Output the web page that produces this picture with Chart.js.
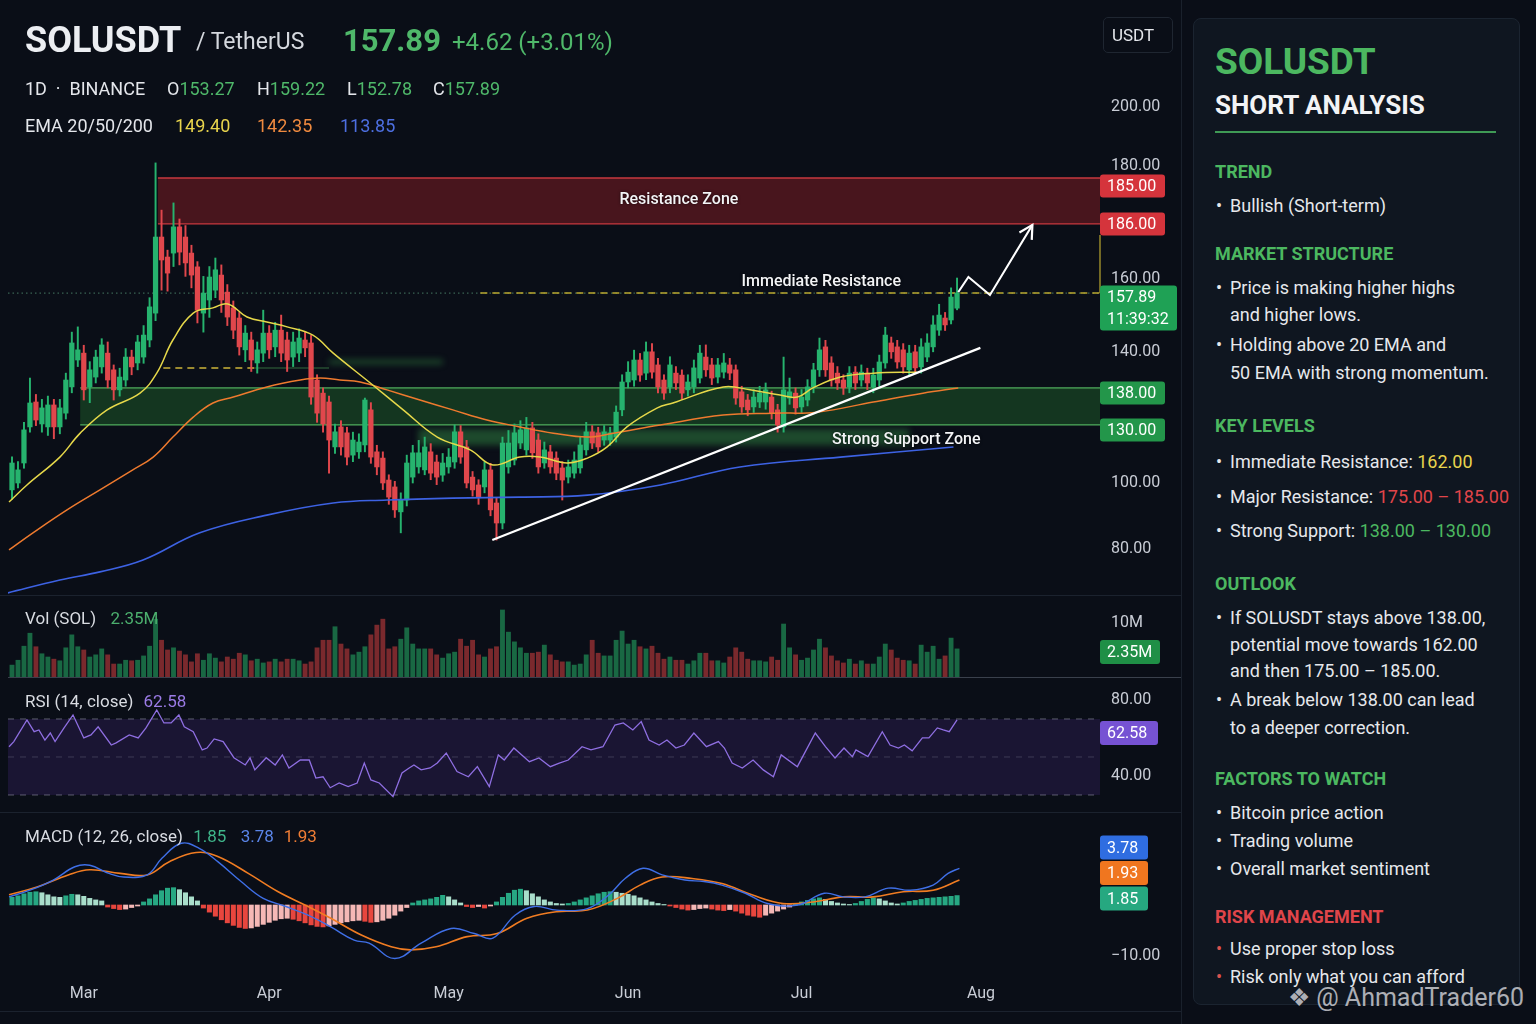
<!DOCTYPE html>
<html>
<head>
<meta charset="utf-8">
<title>SOLUSDT daily</title>
<script src="https://cdn.jsdelivr.net/npm/chart.js@4.4.1/dist/chart.umd.min.js"></script>
<style>
  html, body { margin: 0; padding: 0; background: #0a0e17; }
  body { width: 1536px; height: 1024px; position: relative; overflow: hidden;
         font-family: Roboto, "Noto Sans", sans-serif; color: #e4e6eb; }
  canvas { position: absolute; left: 0; }
  #price { top: 0; } #vol { top: 597px; } #rsi { top: 680px; } #macd { top: 815px; }
  .t { position: absolute; white-space: nowrap; z-index: 5; }
  .sep { position: absolute; left: 0; width: 1181px; height: 1px; background: #1b222e; }
  .up { color: #4fb86a; } .yl { color: #e8d44d; } .or { color: #ef8a3f; } .bl { color: #4d6fe0; }
  .lbl { font-size: 17px; line-height: 24px; color: #d9dce2; }
  .row { font-size: 18px; line-height: 24px; }
  #usdt { position: absolute; left: 1103px; top: 17px; width: 70px; height: 36px; box-sizing: border-box;
          border: 1px solid #1f2631; border-radius: 5px; font-size: 17px; line-height: 34px; text-indent: 8px; color: #e4e6eb; }
  #panel { position: absolute; left: 1193px; top: 18px; width: 327px; height: 987px; box-sizing: border-box;
           background: #0f1620; border: 1px solid #1b2430; border-radius: 8px; }
  #rule { position: absolute; left: 1215px; top: 131px; width: 281px; height: 2px; background: #3f9a55; }
  .p { position: absolute; left: 1215px; white-space: nowrap; }
  .h1 { font-weight: 700; font-size: 37px; line-height: 48px; color: #4cb860; }
  .h2 { font-weight: 700; font-size: 26px; line-height: 34px; color: #f2f3f5; }
  .sec { font-weight: 700; font-size: 18px; line-height: 24px; color: #4cb860; }
  .sec.red { color: #e0454a; }
  .li { font-size: 18px; line-height: 24px; color: #e6e8ec; padding-left: 15px; }
  .li b { position: absolute; left: 1px; font-weight: 400; }
  .li b.r { color: #d9534f; }
  #wm { position: absolute; left: 1288px; top: 983px; font-size: 25px; line-height: 30px; color: rgba(235,235,240,0.72); white-space: nowrap; }
</style>
</head>
<body>

<canvas id="price" width="1190" height="595"></canvas>
<canvas id="vol" width="1190" height="80"></canvas>
<canvas id="rsi" width="1190" height="130"></canvas>
<canvas id="macd" width="1190" height="200"></canvas>

<div class="sep" style="top:595px"></div>
<div class="sep" style="top:677px; left:8px; width:1173px; background:#3a404c"></div>
<div class="sep" style="top:812px"></div>
<div class="sep" style="top:1011px"></div>
<div style="position:absolute; left:1181px; top:0; width:1px; height:1024px; background:#1a212c"></div>

<!-- header -->
<div class="t" style="left:25px; top:18px; font-weight:700; font-size:36px; line-height:44px; color:#eceef2">SOLUSDT</div>
<div class="t" style="left:196px; top:20px; font-size:23px; line-height:44px; color:#d5d8de">/ TetherUS</div>
<div class="t up" style="left:343px; top:19px; font-weight:700; font-size:31px; line-height:44px">157.89</div>
<div class="t up" style="left:452px; top:20px; font-size:24px; line-height:44px">+4.62 (+3.01%)</div>

<div class="t row" style="left:25px; top:77px">1D &nbsp;·&nbsp; BINANCE</div>
<div class="t row" style="left:167px; top:77px">O<span class="up">153.27</span></div>
<div class="t row" style="left:257px; top:77px">H<span class="up">159.22</span></div>
<div class="t row" style="left:347px; top:77px">L<span class="up">152.78</span></div>
<div class="t row" style="left:433px; top:77px">C<span class="up">157.89</span></div>

<div class="t row" style="left:25px; top:114px">EMA 20/50/200</div>
<div class="t row yl" style="left:175px; top:114px">149.40</div>
<div class="t row or" style="left:257px; top:114px">142.35</div>
<div class="t row bl" style="left:340px; top:114px">113.85</div>

<div id="usdt">USDT</div>

<!-- sub panel captions -->
<div class="t lbl" style="left:25px; top:606px">Vol (SOL) <span style="margin-left:10px; color:#4caf6e">2.35M</span></div>
<div class="t lbl" style="left:25px; top:689px">RSI (14, close) <span style="margin-left:6px; color:#9b7be6">62.58</span></div>
<div class="t lbl" style="left:25px; top:824px">MACD (12, 26, close) <span style="margin-left:6px; color:#3fb58a">1.85</span>
  <span style="margin-left:10px; color:#5a85e8">3.78</span><span style="margin-left:10px; color:#ef7d35">1.93</span></div>

<!-- analysis panel -->
<div id="panel"></div>
<div class="p h1" style="top:38px">SOLUSDT</div>
<div class="p h2" style="top:88px">SHORT ANALYSIS</div>
<div id="rule"></div>

<div class="p sec" style="top:160px">TREND</div>
<div class="p li" style="top:194px"><b>•</b>Bullish (Short-term)</div>

<div class="p sec" style="top:242px">MARKET STRUCTURE</div>
<div class="p li" style="top:276px"><b>•</b>Price is making higher highs</div>
<div class="p li" style="top:303px">and higher lows.</div>
<div class="p li" style="top:333px"><b>•</b>Holding above 20 EMA and</div>
<div class="p li" style="top:361px">50 EMA with strong momentum.</div>

<div class="p sec" style="top:414px">KEY LEVELS</div>
<div class="p li" style="top:450px"><b>•</b>Immediate Resistance: <span style="color:#e8d44d">162.00</span></div>
<div class="p li" style="top:485px"><b>•</b>Major Resistance: <span style="color:#e0454a">175.00 – 185.00</span></div>
<div class="p li" style="top:519px"><b>•</b>Strong Support: <span style="color:#4cb860">138.00 – 130.00</span></div>

<div class="p sec" style="top:572px">OUTLOOK</div>
<div class="p li" style="top:606px"><b>•</b>If SOLUSDT stays above 138.00,</div>
<div class="p li" style="top:633px">potential move towards 162.00</div>
<div class="p li" style="top:659px">and then 175.00 – 185.00.</div>
<div class="p li" style="top:688px"><b>•</b>A break below 138.00 can lead</div>
<div class="p li" style="top:716px">to a deeper correction.</div>

<div class="p sec" style="top:767px">FACTORS TO WATCH</div>
<div class="p li" style="top:801px"><b>•</b>Bitcoin price action</div>
<div class="p li" style="top:829px"><b>•</b>Trading volume</div>
<div class="p li" style="top:857px"><b>•</b>Overall market sentiment</div>

<div class="p sec red" style="top:905px">RISK MANAGEMENT</div>
<div class="p li" style="top:937px"><b class="r">•</b>Use proper stop loss</div>
<div class="p li" style="top:965px"><b class="r">•</b>Risk only what you can afford</div>

<div id="wm">❖ @ AhmadTrader60</div>

<script>
// ---- candles, one per day from Feb 17 (index 0) to Jul 25 (index 158)
const opens = [
  97.9, 100.0, 106.1, 117.1, 124.7, 118.0, 117.1, 123.8, 117.1, 121.3,
  129.3, 137.5, 139.6, 129.3, 132.3, 135.4, 139.6, 134.5, 128.4, 131.4,
  138.4, 136.6, 138.4, 143.6, 151.8, 175.0, 168.9, 170.1, 178.1, 175.0,
  170.1, 165.9, 151.8, 155.8, 158.8, 163.4, 158.2, 153.4, 150.3, 140.6,
  143.6, 136.6, 139.6, 145.7, 141.5, 146.6, 143.6, 138.4, 139.6, 143.6,
  142.7, 131.4, 127.4, 124.7, 111.0, 117.1, 115.3, 108.5, 109.5, 111.6,
  122.3, 109.5, 107.6, 100.9, 98.8, 91.2, 94.8, 101.8, 104.9, 104.0,
  109.5, 106.4, 102.4, 104.9, 106.4, 115.6, 111.0, 101.8, 99.4, 98.8,
  104.0, 93.9, 87.8, 104.9, 107.0, 112.2, 110.1, 116.8, 113.1, 106.1,
  109.5, 107.6, 104.6, 101.8, 103.0, 104.6, 110.1, 115.6, 115.3, 113.1,
  113.1, 114.0, 122.3, 130.8, 131.4, 137.5, 133.5, 140.0, 136.0, 131.4,
  129.3, 133.5, 132.9, 128.4, 129.3, 132.0, 138.4, 136.0, 132.3, 133.8,
  136.0, 134.5, 127.8, 125.3, 123.2, 124.7, 124.7, 126.2, 122.3, 117.1,
  125.9, 127.4, 123.2, 125.3, 129.3, 134.5, 141.5, 136.6, 133.5, 131.4,
  129.3, 133.8, 131.4, 133.5, 129.3, 131.4, 136.6, 142.7, 141.5, 140.6,
  134.5, 140.0, 135.4, 138.4, 141.5, 146.6, 150.3, 149.7, 153.3
];
const highs = [
  108.0, 106.5, 118.5, 132.0, 127.0, 125.5, 126.5, 125.5, 125.5, 133.5,
  146.0, 147.6, 142.0, 137.0, 140.5, 144.0, 143.0, 136.0, 135.0, 141.0,
  140.5, 145.0, 148.0, 156.5, 197.6, 183.2, 171.0, 185.4, 180.5, 178.5,
  172.5, 167.5, 163.0, 166.0, 168.6, 166.5, 160.5, 155.5, 152.0, 148.0,
  146.0, 143.0, 152.7, 148.0, 149.0, 151.2, 146.0, 146.0, 147.0, 146.0,
  145.0, 133.0, 129.0, 126.5, 118.0, 119.0, 117.0, 115.5, 115.0, 125.9,
  124.5, 111.5, 109.5, 102.5, 100.5, 97.0, 108.5, 111.5, 113.0, 114.0,
  112.0, 108.5, 109.0, 110.5, 117.7, 117.5, 113.0, 103.5, 101.0, 106.5,
  106.0, 95.5, 114.0, 116.0, 118.0, 119.0, 120.0, 118.5, 115.0, 112.5,
  111.5, 109.5, 106.5, 107.0, 109.5, 114.0, 118.5, 117.5, 117.0, 117.5,
  117.0, 123.5, 133.0, 137.0, 140.5, 139.5, 143.0, 142.5, 138.0, 133.0,
  138.5, 135.5, 134.5, 133.0, 137.5, 142.0, 142.1, 138.0, 138.0, 139.5,
  138.0, 136.0, 129.5, 127.0, 128.5, 129.5, 130.5, 128.0, 124.0, 138.4,
  132.0, 129.0, 128.5, 131.5, 136.5, 144.2, 143.5, 138.5, 135.5, 133.0,
  135.5, 135.5, 136.0, 135.0, 135.0, 139.0, 147.5, 144.5, 143.5, 142.5,
  142.0, 142.0, 144.0, 145.5, 151.0, 154.5, 152.0, 159.5, 162.5
];
const lows = [
  95.0, 98.5, 104.5, 115.5, 117.5, 115.5, 114.5, 113.5, 115.0, 119.5,
  127.5, 135.5, 125.3, 124.5, 130.5, 133.5, 129.0, 125.3, 126.5, 129.5,
  133.0, 134.5, 136.5, 141.5, 149.5, 158.8, 158.5, 166.0, 166.5, 163.0,
  159.5, 148.8, 146.0, 150.5, 156.5, 152.0, 148.0, 144.0, 139.0, 137.0,
  134.0, 133.5, 137.0, 138.0, 138.5, 137.0, 134.0, 135.5, 137.0, 138.5,
  124.0, 118.5, 115.5, 103.0, 109.0, 108.5, 105.5, 106.5, 107.5, 109.5,
  106.0, 102.5, 98.0, 93.5, 89.5, 84.8, 93.0, 100.0, 103.0, 102.5,
  101.0, 99.5, 100.5, 103.0, 104.5, 106.0, 98.5, 96.0, 93.5, 97.0,
  90.0, 82.6, 86.0, 103.0, 105.5, 110.5, 108.5, 107.5, 103.0, 104.5,
  103.0, 101.0, 94.8, 100.0, 101.5, 103.0, 108.5, 110.5, 109.5, 111.5,
  111.5, 112.5, 120.5, 129.0, 129.5, 131.0, 131.5, 132.0, 127.5, 125.5,
  127.5, 128.5, 125.5, 126.5, 127.5, 130.5, 132.5, 130.0, 130.5, 132.0,
  131.5, 124.0, 121.5, 120.5, 121.5, 123.0, 122.5, 119.5, 115.5, 115.5,
  124.0, 121.0, 121.5, 123.5, 127.5, 132.5, 132.5, 129.5, 128.5, 127.0,
  127.5, 128.5, 129.5, 128.5, 127.5, 129.5, 135.0, 138.0, 135.0, 133.5,
  133.0, 133.5, 133.5, 137.0, 140.0, 145.0, 146.5, 148.5, 152.8
];
const closes = [
  106.1, 104.0, 116.2, 124.4, 119.2, 122.9, 123.8, 117.1, 122.9, 131.4,
  142.7, 140.6, 128.4, 134.5, 138.4, 142.1, 131.4, 128.4, 132.3, 138.4,
  135.4, 143.0, 145.1, 153.7, 175.0, 168.0, 164.0, 178.1, 170.4, 167.1,
  163.4, 152.7, 157.9, 162.8, 165.0, 155.8, 150.6, 146.6, 141.5, 145.7,
  137.5, 140.6, 145.7, 140.6, 146.6, 139.6, 137.5, 143.0, 144.2, 141.2,
  126.2, 121.3, 118.0, 113.1, 115.6, 111.0, 107.9, 113.1, 112.5, 125.3,
  107.9, 104.9, 100.0, 95.7, 91.8, 94.8, 106.1, 109.2, 109.2, 111.0,
  103.0, 101.8, 106.1, 107.9, 115.6, 107.9, 100.0, 97.9, 95.7, 104.0,
  91.8, 87.8, 112.2, 112.2, 115.3, 116.2, 116.8, 109.2, 104.9, 110.1,
  104.9, 103.0, 100.9, 104.9, 107.0, 111.6, 115.6, 112.2, 111.0, 115.6,
  115.3, 121.6, 130.8, 133.8, 137.5, 132.9, 140.0, 133.8, 129.3, 127.4,
  136.0, 130.5, 127.4, 130.8, 135.1, 139.6, 134.5, 132.0, 136.0, 136.6,
  133.5, 125.9, 123.2, 122.3, 126.2, 127.4, 128.4, 121.3, 117.7, 128.4,
  127.8, 122.9, 126.2, 129.3, 134.5, 140.6, 134.5, 131.4, 130.5, 129.0,
  133.5, 130.5, 133.8, 130.5, 132.9, 136.9, 145.1, 140.0, 136.9, 135.4,
  139.6, 135.1, 141.5, 142.7, 148.2, 151.2, 148.2, 156.7, 157.9
];
// volume in millions SOL
const volumes = [
  2.2, 3.1, 5.7, 8.1, 5.6, 4.3, 3.7, 3.3, 3.0, 5.4,
  7.8, 5.6, 5.0, 3.7, 4.1, 5.2, 4.1, 2.4, 2.4, 3.1,
  3.0, 3.1, 3.9, 5.7, 10.7, 6.8, 5.0, 5.4, 4.8, 4.1,
  2.8, 4.3, 3.1, 4.3, 3.5, 2.8, 3.7, 3.3, 4.4, 4.1,
  3.0, 3.3, 2.6, 2.8, 3.3, 2.8, 3.3, 3.3, 3.0, 2.4,
  2.8, 5.4, 6.8, 6.8, 9.3, 6.1, 5.2, 4.1, 4.6, 5.6,
  7.8, 9.6, 10.7, 5.2, 5.6, 7.0, 9.1, 6.1, 5.2, 5.2,
  5.2, 4.1, 3.5, 4.3, 4.6, 7.0, 5.7, 6.8, 4.1, 3.7,
  5.2, 5.6, 12.4, 8.3, 6.5, 5.4, 4.4, 4.4, 4.6, 5.9,
  4.1, 3.1, 2.8, 2.8, 2.2, 2.4, 4.1, 6.8, 4.4, 3.9,
  3.9, 6.8, 8.5, 6.1, 6.8, 5.6, 5.2, 5.7, 4.4, 3.3,
  3.7, 3.1, 3.1, 2.4, 3.0, 4.4, 4.4, 3.0, 3.0, 2.6,
  3.7, 5.4, 4.6, 3.3, 3.0, 3.0, 2.8, 3.7, 3.1, 9.8,
  5.4, 4.1, 3.1, 3.5, 5.0, 7.0, 5.4, 3.9, 3.0, 2.6,
  3.3, 2.4, 3.0, 2.4, 2.4, 3.7, 6.1, 5.0, 3.5, 3.1,
  3.0, 2.4, 5.9, 4.6, 5.7, 3.3, 3.9, 7.2, 5.2
];
// MACD histogram, one bar per candle
const macdHist = [
  1.5, 1.8, 2.2, 2.5, 2.6, 2.4, 2.0, 1.6, 1.5, 1.8, 2.1, 2.0, 1.7, 1.3, 1.0, 0.8,
  -0.4, -0.7, -0.9, -0.8, -0.5, -0.2,
  0.6, 1.2, 2.0, 2.8, 3.3, 3.4, 3.0, 2.4, 1.6, 0.8,
  -0.6, -1.4, -2.2, -2.9, -3.5, -4.0, -4.4, -4.6, -4.5, -4.2, -3.8, -3.4, -3.0, -2.7, -2.6, -2.8,
  -3.1, -3.5, -3.9, -4.2, -4.3, -4.1, -3.8, -3.5, -3.3, -3.1, -3.0, -3.2, -3.4, -3.3, -3.0, -2.6, -2.0, -1.2, -0.5,
  0.4, 0.8, 1.0, 1.2, 1.5, 1.9, 1.6, 1.0, 0.4,
  -0.3, -0.5, -0.3, -0.6, -0.2,
  0.6, 1.5, 2.3, 2.9, 3.1, 2.8, 2.2, 1.6, 1.0, 0.6, 0.3, 0.2,
  0.3, 0.6, 1.0, 1.4, 1.8, 2.2, 2.5, 2.6, 2.5, 2.3, 2.1, 1.8, 1.4, 1.0, 0.6, 0.3, 0.1, -0.2,
  -0.5, -0.8, -1.0, -0.9, -0.7, -0.6, -0.8, -1.0, -1.1, -0.9, -1.2, -1.6, -2.0, -2.2, -2.4, -2.0, -1.6, -1.2, -0.8, -0.4,
  0.3, 0.6, 0.9, 1.2, 1.4, 1.1, 0.7, 0.4, 0.2, 0.1,
  0.3, 0.7, 1.1, 1.4, 1.2, 0.8,
  0.4, 0.2, 0.4, 0.7,
  0.9, 1.1, 1.3, 1.4, 1.5, 1.6, 1.7, 1.85
];

// indicator lines as [day index, value]
const ema20Pts = [[-0.5,94.2],[2.5,99.4],[8.0,107.9],[11.4,115.2],[15.9,122.3],[21.4,127.4],[24.2,133.5],
  [26.9,143.6],[30.3,151.8],[33.6,153.4],[36.1,154.6],[39.3,150.6],[42.6,149.1],[46.0,147.6],[50.3,145.1],
  [53.7,139.6],[59.9,130.5],[65.4,122.3],[71.1,114.0],[76.6,110.1],[80.4,105.5],[84.9,107.9],[88.3,107.9],
  [92.8,106.1],[96.2,107.6],[99.5,111.0],[102.8,117.1],[107.9,122.9],[110.5,124.4],[118.9,129.3],[123.4,128.4],
  [128.4,126.8],[131.3,126.2],[133.9,129.0],[138.5,132.3],[144.0,133.5],[151.3,133.8]];
const ema50Pts = [[-0.5,79.6],[3.5,84.8],[9.2,91.8],[14.7,97.9],[20.2,104.0],[23.6,107.9],[26.9,114.0],
  [30.3,120.1],[33.6,124.4],[37.0,126.2],[42.6,129.3],[48.2,131.4],[51.5,132.0],[54.8,131.4],[58.2,130.8],
  [62.7,128.4],[68.2,125.3],[73.7,122.3],[79.4,119.2],[84.9,117.1],[90.5,115.2],[96.2,114.0],[100.5,115.2],
  [108.4,117.7],[118.9,120.7],[127.3,121.3],[134.6,121.6],[144.0,124.7],[152.3,127.4],[158.2,129.0]];
const ema200Pts = [[-0.7,66.5],[8.0,70.4],[14.7,72.9],[21.9,76.5],[31.4,84.8],[42.6,90.2],[53.7,93.9],
  [62.7,94.8],[73.7,95.4],[84.9,95.7],[96.2,96.3],[108.4,99.4],[121.7,104.9],[138.5,107.9],[157.4,111.0]];
const rsiPts = [[-0.5,55.4],[0.3,58.1],[2.5,69.5],[3.7,63.3],[4.5,64.2],[5.5,58.9],[6.4,62.6],[7.2,58.1],
  [8.7,65.3],[10.2,72.1],[12.0,60.0],[13.2,61.6],[14.4,65.9],[16.6,56.3],[17.4,57.4],[19.6,61.6],[21.1,60.0],
  [22.4,65.3],[24.2,74.7],[25.4,67.9],[26.6,67.9],[27.9,72.1],[28.8,65.9],[30.3,63.3],[31.8,53.7],[32.6,54.7],
  [33.8,59.5],[35.3,58.1],[37.1,49.6],[39.0,45.8],[39.8,49.5],[40.6,43.2],[42.5,49.6],[44.0,45.8],[45.2,51.1],
  [46.3,44.2],[48.2,48.4],[49.7,48.4],[50.8,38.9],[52.0,39.6],[53.2,33.8],[54.7,36.3],[56.2,34.4],[57.7,36.3],
  [58.9,46.8],[60.0,37.9],[61.4,36.3],[63.7,29.1],[65.2,41.6],[66.4,44.2],[67.2,45.8],[68.4,43.2],[69.9,44.2],
  [71.1,46.8],[72.6,52.1],[74.4,42.3],[76.3,39.6],[77.8,44.9],[79.8,34.4],[81.3,51.1],[82.3,48.4],[83.9,54.7],
  [86.5,47.5],[88.1,49.5],[90.0,44.9],[91.5,46.8],[93.0,48.4],[95.3,55.4],[96.8,53.7],[98.8,55.4],[100.8,66.8],
  [102.2,67.9],[103.8,64.2],[105.2,68.6],[106.5,58.9],[108.2,56.3],[109.5,58.9],[111.0,54.7],[112.4,56.3],
  [114.0,62.6],[116.1,55.4],[118.1,58.1],[119.1,54.7],[120.4,46.8],[122.1,44.2],[123.9,48.4],[125.6,43.2],
  [127.3,39.6],[128.6,51.1],[131.3,44.9],[134.3,62.6],[136.0,55.4],[137.6,49.5],[139.1,54.7],[140.5,50.2],
  [141.1,53.7],[143.1,50.2],[145.5,63.3],[146.8,56.3],[148.2,54.7],[149.2,56.3],[150.5,53.2],[152.2,60.0],
  [153.3,60.0],[154.7,65.3],[155.7,64.2],[156.7,63.3],[158.0,69.5]];
const macdPts = [[-0.5,1.6],[3.0,2.9],[6.9,4.9],[10.5,7.5],[13.0,7.8],[16.2,6.2],[18.7,5.5],[22.6,5.9],
  [25.1,9.2],[28.3,12.1],[31.3,11.1],[34.4,8.5],[38.3,4.6],[42.0,1.3],[45.8,-0.3],[49.5,-2.0],[53.3,-4.3],
  [57.2,-6.9],[59.7,-7.5],[64.0,-10.5],[68.4,-7.5],[73.4,-4.6],[77.3,-5.6],[80.4,-6.5],[84.1,-2.0],[87.3,-0.3],
  [91.1,-1.0],[96.2,-0.7],[99.8,2.0],[102.5,5.2],[105.5,7.2],[108.7,5.9],[112.5,4.9],[115.7,4.6],[118.7,3.9],
  [122.6,2.3],[126.3,0.3],[131.4,0.0],[135.8,2.3],[139.0,1.6],[142.6,1.6],[146.5,3.3],[150.2,2.9],[154.0,3.9],
  [156.5,6.2],[158.4,7.2]];
const signalPts = [[-0.5,2.0],[4.3,3.6],[9.4,5.9],[13.0,6.9],[18.1,6.2],[22.6,5.9],[26.3,8.5],[30.8,10.3],
  [34.4,9.5],[39.5,6.2],[44.5,2.6],[49.5,-0.3],[53.3,-2.6],[58.4,-5.9],[63.4,-8.2],[66.6,-8.8],[70.9,-8.2],
  [76.1,-6.2],[81.1,-5.6],[86.1,-2.6],[91.1,-1.3],[96.2,-1.0],[101.2,1.3],[105.0,3.9],[108.7,5.5],[113.7,5.2],
  [118.7,4.2],[123.7,2.0],[128.9,0.3],[133.9,0.6],[139.0,1.6],[144.0,1.6],[149.0,2.6],[154.0,2.9],[158.4,4.9]];

// drawn levels and studies
const trendLine = [[80.3, 82.6], [161.9, 141.2]];
const projectionPath = [[158.2, 158.2], [159.9, 162.8], [163.5, 157.3], [170.6, 178.7]];
const resistFrom = 24.4, resistTop = 193.0, resistBottom = 179.0;
const supportFrom = 11.4, supportTop = 129.0, supportBottom = 117.7;
const immFrom = 78.3, immLevel = 157.9;
const oldLevel = 135.1, oldFrom = 25.3, oldTo = 40.6;
const glowBands = [[53, 72, 137.6, 136.2], [68, 150, 116.5, 111.5]];
const zoneTexts = [['Resistance Zone', 111.5, 186.3], ['Immediate Resistance', 135.3, 161.3], ['Strong Support Zone', 149.5, 113.1]];

// axes
const xMin = -0.67, xMax = 181.9;
const monthTickIdx = [12, 43, 73, 103, 132, 162];
const monthLabels = ['Mar', 'Apr', 'May', 'Jun', 'Jul', 'Aug'];
const priceMin = 65.85, priceMax = 247.27;
const priceTicks = [214.6, 196.7, 162.2, 140.0, 100.0, 79.9];
const priceTickLabels = ['200.00', '180.00', '160.00', '140.00', '100.00', '80.00'];
const volMax = 14.8, volTicks = [10], volTickLabels = ['10M'];
const rsiMin = 22.1, rsiMax = 90.5, rsiTicks = [80, 40], rsiTickLabels = ['80.00', '40.00'];
const rsiBands = [70, 50, 30];
const macdMin = -13.73, macdMax = 17.65, macdTicks = [-10], macdTickLabels = ['−10.00'];
const lastRsi = 62.58;
const macdTagValues = [3.78, 1.93, 1.85];

// ---- helpers
Chart.defaults.font.family = 'Roboto, "Noto Sans", sans-serif';
Chart.defaults.color = '#c9cdd6';

const UP = '#26b36e', DOWN = '#e0474c';
const isUp = closes.map((c, i) => c >= opens[i]);
const toXY = pts => pts.map(p => ({ x: p[0], y: p[1] }));

function rightAxis(min, max, vals, labels) {
  return {
    position: 'right', min: min, max: max,
    grid: { display: false, drawTicks: false }, border: { display: false },
    afterBuildTicks: s => { s.ticks = vals.map(v => ({ value: v })); },
    afterFit: s => { s.width = 90; s.paddingTop = 0; s.paddingBottom = 0; },
    ticks: { padding: 11, autoSkip: false, color: '#c9cdd6', font: { size: 16 },
             callback: (v, i) => labels[i] }
  };
}
// offset:false keeps bar charts from widening the linear day axis
const hiddenX = () => ({ type: 'linear', min: xMin, max: xMax, offset: false, display: false });
const baseOptions = (scales) => ({
  responsive: false, animation: false,
  layout: { padding: { left: 8, right: 0, top: 0, bottom: 0 } },
  plugins: { legend: { display: false }, tooltip: { enabled: false } },
  scales: scales
});

function hline(ctx, x1, x2, y) {
  ctx.beginPath(); ctx.moveTo(x1, y); ctx.lineTo(x2, y); ctx.stroke();
}
function drawTag(ctx, left, cy, w, h, bg, lines) {
  ctx.fillStyle = bg;
  ctx.beginPath(); ctx.roundRect(left, cy - h / 2, w, h, 3); ctx.fill();
  ctx.fillStyle = '#ffffff';
  ctx.font = '16px Roboto'; ctx.textAlign = 'left'; ctx.textBaseline = 'middle';
  lines.forEach((s, k) => ctx.fillText(s, left + 7, cy + (k - (lines.length - 1) / 2) * 22 + 1));
}

// ---- price panel
const priceOverlay = {
  id: 'priceOverlay',
  beforeDatasetsDraw(chart) {
    const { ctx, chartArea: a, scales: { x, y } } = chart;
    ctx.save();
    ctx.beginPath(); ctx.rect(a.left, a.top, a.right - a.left, a.bottom - a.top); ctx.clip();

    // resistance zone
    const rx = x.getPixelForValue(resistFrom);
    const r1 = y.getPixelForValue(resistTop), r2 = y.getPixelForValue(resistBottom);
    ctx.fillStyle = 'rgba(112,26,34,0.62)';
    ctx.fillRect(rx, r1, a.right - rx, r2 - r1);
    ctx.strokeStyle = '#c9393f'; ctx.lineWidth = 1.3;
    hline(ctx, rx, a.right, r1); hline(ctx, rx, a.right, r2);

    // support zone
    const sx = x.getPixelForValue(supportFrom);
    const s1 = y.getPixelForValue(supportTop), s2 = y.getPixelForValue(supportBottom);
    ctx.fillStyle = 'rgba(38,120,48,0.38)';
    ctx.fillRect(sx, s1, a.right - sx, s2 - s1);
    ctx.strokeStyle = 'rgba(92,196,104,0.85)'; ctx.lineWidth = 1.2;
    hline(ctx, sx, a.right, s1); hline(ctx, sx, a.right, s2);

    // soft green streaks
    ctx.filter = 'blur(3px)';
    ctx.fillStyle = 'rgba(60,170,80,0.38)';
    glowBands.forEach(g => {
      const gx1 = x.getPixelForValue(g[0]), gx2 = x.getPixelForValue(g[1]);
      const gy1 = y.getPixelForValue(g[2]), gy2 = y.getPixelForValue(g[3]);
      ctx.fillRect(gx1, gy1, gx2 - gx1, gy2 - gy1);
    });
    ctx.filter = 'none';

    // last price dotted line
    const ly = y.getPixelForValue(closes[closes.length - 1]);
    ctx.setLineDash([1.5, 3]); ctx.strokeStyle = 'rgba(110,190,150,0.6)'; ctx.lineWidth = 1;
    hline(ctx, a.left, a.right, ly);

    // immediate resistance
    ctx.setLineDash([7, 5]); ctx.strokeStyle = '#bba82f'; ctx.lineWidth = 1.5;
    hline(ctx, x.getPixelForValue(immFrom), a.right, y.getPixelForValue(immLevel));

    // older dashed level
    const oy = y.getPixelForValue(oldLevel);
    ctx.strokeStyle = '#cdb53a';
    hline(ctx, x.getPixelForValue(oldFrom), x.getPixelForValue(oldTo), oy);
    ctx.setLineDash([]); ctx.strokeStyle = 'rgba(70,150,80,0.45)';
    hline(ctx, x.getPixelForValue(oldTo), x.getPixelForValue(53), oy);
    ctx.restore();
  },
  afterDatasetsDraw(chart) {
    const { ctx, scales: { x, y } } = chart;
    ctx.save();
    // arrow head on projection
    const n = projectionPath.length;
    const ex = x.getPixelForValue(projectionPath[n - 1][0]), ey = y.getPixelForValue(projectionPath[n - 1][1]);
    const px = x.getPixelForValue(projectionPath[n - 2][0]), py = y.getPixelForValue(projectionPath[n - 2][1]);
    const ang = Math.atan2(ey - py, ex - px);
    ctx.strokeStyle = '#ffffff'; ctx.lineWidth = 2.2; ctx.lineJoin = 'miter';
    ctx.beginPath();
    ctx.moveTo(ex - 15 * Math.cos(ang - 0.5), ey - 15 * Math.sin(ang - 0.5));
    ctx.lineTo(ex, ey);
    ctx.lineTo(ex - 15 * Math.cos(ang + 0.5), ey - 15 * Math.sin(ang + 0.5));
    ctx.stroke();

    // zone captions
    ctx.font = '500 16px Roboto'; ctx.textAlign = 'center'; ctx.textBaseline = 'middle';
    ctx.fillStyle = '#f3f4f6';
    ctx.shadowColor = 'rgba(0,0,0,0.7)'; ctx.shadowBlur = 3;
    zoneTexts.forEach(t => ctx.fillText(t[0], x.getPixelForValue(t[1]), y.getPixelForValue(t[2])));
    ctx.restore();
  },
  afterDraw(chart) {
    const { ctx, chartArea: a, scales: { y } } = chart;
    ctx.save();
    const ly = y.getPixelForValue(immLevel);
    ctx.strokeStyle = '#bba82f'; ctx.lineWidth = 1.2;
    ctx.beginPath(); ctx.moveTo(a.right, y.getPixelForValue(resistBottom) + 11); ctx.lineTo(a.right, ly); ctx.stroke();
    drawTag(ctx, a.right, y.getPixelForValue(resistTop) + 8, 65, 23, '#d5343c', ['185.00']);
    drawTag(ctx, a.right, y.getPixelForValue(resistBottom), 65, 23, '#d5343c', ['186.00']);
    drawTag(ctx, a.right, y.getPixelForValue(closes[closes.length - 1]) + 15, 77, 45, '#1fa155', ['157.89', '11:39:32']);
    drawTag(ctx, a.right, y.getPixelForValue(supportTop) + 5, 65, 23, '#23964a', ['138.00']);
    drawTag(ctx, a.right, y.getPixelForValue(supportBottom) + 5, 65, 23, '#23964a', ['130.00']);
    ctx.restore();
  }
};

const candleColors = isUp.map(u => u ? UP : DOWN);
new Chart(document.getElementById('price'), {
  data: {
    datasets: [
      { type: 'line', data: toXY(trendLine), borderColor: '#ffffff', borderWidth: 2.2, pointRadius: 0, order: 1 },
      { type: 'line', data: toXY(projectionPath), borderColor: '#ffffff', borderWidth: 2, pointRadius: 0, order: 1 },
      { type: 'line', data: toXY(ema20Pts), borderColor: '#e6d84a', borderWidth: 1.5, pointRadius: 0, tension: 0.4, order: 2 },
      { type: 'line', data: toXY(ema50Pts), borderColor: '#ee7a2e', borderWidth: 1.5, pointRadius: 0, tension: 0.4, order: 2 },
      { type: 'line', data: toXY(ema200Pts), borderColor: '#3d62e3', borderWidth: 1.6, pointRadius: 0, tension: 0.4, order: 2 },
      { type: 'bar', data: closes.map((c, i) => ({ x: i, y: [opens[i], c] })), backgroundColor: candleColors,
        barThickness: 4.6, minBarLength: 1.5, grouped: false, order: 3 },
      { type: 'bar', data: closes.map((c, i) => ({ x: i, y: [lows[i], highs[i]] })), backgroundColor: candleColors,
        barThickness: 1.3, grouped: false, order: 4 }
    ]
  },
  options: baseOptions({ x: hiddenX(), y: rightAxis(priceMin, priceMax, priceTicks, priceTickLabels) }),
  plugins: [priceOverlay]
});

// ---- volume panel
new Chart(document.getElementById('vol'), {
  data: {
    datasets: [{
      type: 'bar', data: volumes.map((v, i) => ({ x: i, y: v })),
      backgroundColor: isUp.map(u => u ? 'rgba(36,160,96,0.62)' : 'rgba(196,60,60,0.6)'),
      barThickness: 4.2, grouped: false
    }]
  },
  options: baseOptions({ x: hiddenX(), y: rightAxis(0, volMax, volTicks, volTickLabels) }),
  plugins: [{
    id: 'volTag',
    afterDraw(chart) {
      const { ctx, chartArea: a, scales: { y } } = chart;
      drawTag(ctx, a.right, y.getPixelForValue(volumes[volumes.length - 1]) + 3, 60, 24, '#1f8f46', ['2.35M']);
    }
  }]
});

// ---- RSI panel
new Chart(document.getElementById('rsi'), {
  data: {
    datasets: [{ type: 'line', data: toXY(rsiPts), borderColor: '#8f6fe2', borderWidth: 1.3, pointRadius: 0, tension: 0 }]
  },
  options: baseOptions({ x: hiddenX(), y: rightAxis(rsiMin, rsiMax, rsiTicks, rsiTickLabels) }),
  plugins: [{
    id: 'rsiBand',
    beforeDatasetsDraw(chart) {
      const { ctx, chartArea: a, scales: { y } } = chart;
      ctx.save();
      const t = y.getPixelForValue(rsiBands[0]), b = y.getPixelForValue(rsiBands[2]);
      ctx.fillStyle = 'rgba(74,44,130,0.26)';
      ctx.fillRect(a.left, t, a.right - a.left, b - t);
      ctx.setLineDash([6, 6]); ctx.lineWidth = 1;
      rsiBands.forEach((v, k) => {
        ctx.strokeStyle = k === 1 ? 'rgba(170,170,190,0.25)' : 'rgba(170,170,190,0.5)';
        hline(ctx, a.left, a.right, y.getPixelForValue(v));
      });
      ctx.restore();
    },
    afterDraw(chart) {
      const { ctx, chartArea: a, scales: { y } } = chart;
      drawTag(ctx, a.right, y.getPixelForValue(lastRsi), 58, 24, '#7652d3', ['62.58']);
    }
  }]
});

// ---- MACD panel
const histColors = macdHist.map((v, i) => {
  const prev = i > 0 ? macdHist[i - 1] : v;
  if (v >= 0) return v >= prev ? '#27a883' : '#a9decb';
  return v <= prev ? '#e8463e' : '#f5b8b6';
});
const macdX = {
  type: 'linear', min: xMin, max: xMax, offset: false,
  grid: { display: false, drawTicks: false }, border: { display: false },
  afterBuildTicks: s => { s.ticks = monthTickIdx.map(v => ({ value: v })); },
  afterFit: s => { s.height = 40; s.paddingLeft = 0; s.paddingRight = 0; },
  ticks: { padding: 9, autoSkip: false, maxRotation: 0, color: '#c9cdd6', font: { size: 16 },
           callback: (v, i) => monthLabels[i] }
};
new Chart(document.getElementById('macd'), {
  data: {
    datasets: [
      { type: 'line', data: toXY(macdPts), borderColor: '#3f6fe6', borderWidth: 1.4, pointRadius: 0, tension: 0.4, order: 1 },
      { type: 'line', data: toXY(signalPts), borderColor: '#f07c22', borderWidth: 1.6, pointRadius: 0, tension: 0.4, order: 1 },
      { type: 'bar', data: macdHist.map((v, i) => ({ x: i, y: v })), backgroundColor: histColors,
        barThickness: 4.4, grouped: false, order: 3 }
    ]
  },
  options: baseOptions({ x: macdX, y: rightAxis(macdMin, macdMax, macdTicks, macdTickLabels) }),
  plugins: [{
    id: 'macdTags',
    afterDraw(chart) {
      const { ctx, chartArea: a, scales: { y } } = chart;
      const colors = ['#2f6de1', '#f0761f', '#26a880'];
      // stack the tags upward from the lowest value so they do not overlap
      const order = macdTagValues.map((v, k) => k).sort((p, q) => macdTagValues[p] - macdTagValues[q]);
      let limit = Infinity;
      order.forEach(k => {
        const cy = Math.min(y.getPixelForValue(macdTagValues[k]) + 3, limit);
        drawTag(ctx, a.right, cy, 48, 24, colors[k], [macdTagValues[k].toFixed(2)]);
        limit = cy - 25.5;
      });
    }
  }]
});
</script>
</body>
</html>
